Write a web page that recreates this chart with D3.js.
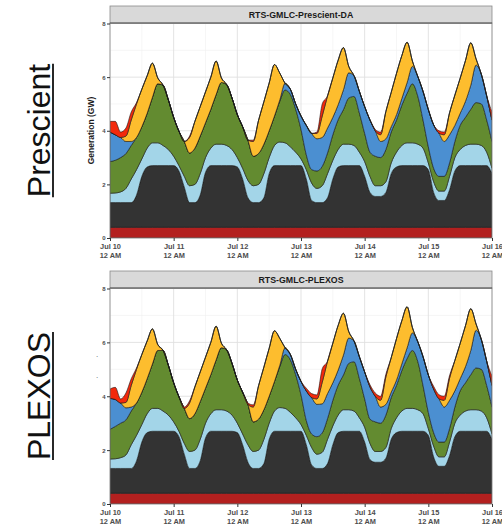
<!DOCTYPE html>
<html>
<head>
<meta charset="utf-8">
<script src="https://cdn.jsdelivr.net/npm/d3@7"></script>
<style>
  body { margin: 0; background: #fff; }
  svg { display: block; font-family: "Liberation Sans", Arial, sans-serif; }
</style>
</head>
<body>
<div id="chart"></div>
<script>
// tick labels
const dayLabels = ["Jul 10", "Jul 11", "Jul 12", "Jul 13", "Jul 14", "Jul 15", "Jul 16"];
const hourLabel = "12 AM";
const yTicks = [0, 2, 4, 6, 8];

// generation by type (GW), every 2 hours from Jul 10 12 AM to Jul 16 12 AM
const presNuclear = [
  0.4,0.4,0.4,0.4,0.4,0.4,0.4,0.4,0.4,0.4,0.4,0.4,
  0.4,0.4,0.4,0.4,0.4,0.4,0.4,0.4,0.4,0.4,0.4,0.4,
  0.4,0.4,0.4,0.4,0.4,0.4,0.4,0.4,0.4,0.4,0.4,0.4,
  0.4,0.4,0.4,0.4,0.4,0.4,0.4,0.4,0.4,0.4,0.4,0.4,
  0.4,0.4,0.4,0.4,0.4,0.4,0.4,0.4,0.4,0.4,0.4,0.4,
  0.4,0.4,0.4,0.4,0.4,0.4,0.4,0.4,0.4,0.4,0.4,0.4,
  0.4];
const presCoal = [
  0.92,0.92,0.92,0.92,0.92,1.20,1.90,2.25,2.30,2.30,2.30,2.30,
  2.30,2.10,1.50,0.92,0.92,1.20,2.05,2.30,2.30,2.30,2.30,2.30,
  2.25,1.80,1.10,0.92,0.92,1.10,2.00,2.30,2.30,2.30,2.30,2.30,
  2.30,1.80,1.00,0.92,0.92,1.10,1.80,2.25,2.30,2.30,2.30,2.30,
  1.90,1.30,1.15,1.15,1.30,2.00,2.25,2.30,2.30,2.30,2.30,2.30,
  2.15,1.30,1.00,1.00,1.40,2.10,2.30,2.30,2.30,2.30,2.30,2.30,
  2.00];
const presHydro = [
  0.35,0.36,0.40,0.53,0.88,0.95,0.65,0.70,0.85,0.85,0.75,0.60,
  0.35,0.20,0.40,0.63,0.68,0.80,0.55,0.65,0.80,0.80,0.75,0.60,
  0.35,0.40,0.65,0.63,0.68,0.90,0.60,0.75,0.88,0.85,0.70,0.50,
  0.25,0.35,0.65,0.53,0.63,0.90,0.70,0.65,0.80,0.80,0.75,0.50,
  0.55,0.60,0.40,0.40,0.40,0.40,0.55,0.75,0.85,0.85,0.80,0.65,
  0.25,0.40,0.35,0.35,0.50,0.50,0.60,0.75,0.80,0.80,0.75,0.50,
  0.20];
const presGasCC = [
  1.18,1.22,1.28,1.30,1.25,1.20,1.20,1.30,1.70,2.20,2.25,1.85,
  1.45,1.28,1.30,1.22,1.35,1.40,1.30,1.45,1.85,2.30,2.27,1.92,
  1.60,1.55,1.50,1.10,1.15,1.10,1.00,1.10,1.52,1.97,1.95,1.60,
  1.10,0.55,0.50,0.65,0.72,0.77,0.95,1.11,1.29,1.72,1.83,1.46,
  1.05,0.90,1.10,1.05,1.20,1.15,1.20,1.50,1.85,2.20,1.80,1.05,
  0.60,0.50,0.55,0.55,0.50,0.60,0.90,1.05,1.30,1.55,1.55,1.20,
  1.00];
const presWind = [
  1.10,0.95,0.75,0.45,0.15,0,0,0,0,0,0,0,
  0,0,0,0,0,0,0,0,0,0,0,0,
  0,0,0,0,0,0,0,0,0.05,0.25,0.20,0.20,
  0.50,1.10,1.35,1.20,1.08,0.93,0.65,0.56,0.74,0.94,0.77,0.81,
  1.00,1.20,0.95,0.60,0.40,0.20,0.20,0.25,0.40,0.65,0.73,1.07,
  1.39,1.62,1.61,1.30,1.05,0.60,0.45,0.60,0.90,1.40,1.10,0.90,
  0.80];
const presSolar = [
  0,0,0,0.20,0.80,1.25,1.40,1.40,1.27,0.22,0,0,
  0,0,0,0.58,1.00,1.10,1.15,1.20,1.25,0.17,0,0,
  0,0,0,0.55,1.24,1.58,1.78,1.92,1.00,0,0,0,
  0,0,0,0.20,0.80,1.20,1.47,1.66,1.57,0.24,0,0,
  0,0,0,0.25,1.02,1.28,1.54,1.60,1.50,0.20,0,0,
  0,0,0,0.25,0.82,1.13,1.31,1.52,1.58,0.23,0,0,
  0];
const presCT = [
  0.40,0.50,0.20,0.30,0.30,0.05,0,0,0,0,0,0,
  0,0,0,0.05,0,0,0,0,0,0,0,0,
  0,0,0,0.05,0,0,0,0,0,0,0,0,
  0,0,0,0.05,0.45,0,0,0,0,0,0,0,
  0,0,0.05,0.10,0,0,0,0,0,0,0,0,
  0,0,0.09,0.10,0,0,0,0,0,0,0,0,
  0.30];

const plexNuclear = [
  0.4,0.4,0.4,0.4,0.4,0.4,0.4,0.4,0.4,0.4,0.4,0.4,
  0.4,0.4,0.4,0.4,0.4,0.4,0.4,0.4,0.4,0.4,0.4,0.4,
  0.4,0.4,0.4,0.4,0.4,0.4,0.4,0.4,0.4,0.4,0.4,0.4,
  0.4,0.4,0.4,0.4,0.4,0.4,0.4,0.4,0.4,0.4,0.4,0.4,
  0.4,0.4,0.4,0.4,0.4,0.4,0.4,0.4,0.4,0.4,0.4,0.4,
  0.4,0.4,0.4,0.4,0.4,0.4,0.4,0.4,0.4,0.4,0.4,0.4,
  0.4];
const plexCoal = [
  0.92,0.92,0.92,0.92,0.92,1.20,1.90,2.25,2.30,2.30,2.30,2.30,
  2.30,2.10,1.45,0.92,0.92,1.20,2.05,2.30,2.30,2.30,2.30,2.30,
  2.25,1.80,1.15,0.92,0.92,1.10,2.00,2.30,2.30,2.30,2.30,2.30,
  2.30,1.80,1.05,0.92,0.92,1.10,1.80,2.25,2.30,2.30,2.30,2.30,
  1.90,1.25,1.15,1.15,1.30,2.00,2.25,2.30,2.30,2.30,2.30,2.30,
  2.15,1.35,1.00,1.00,1.40,2.10,2.30,2.30,2.30,2.30,2.30,2.30,
  2.00];
const plexHydro = [
  0.35,0.36,0.40,0.50,0.88,0.95,0.65,0.70,0.85,0.85,0.75,0.60,
  0.35,0.20,0.40,0.63,0.68,0.80,0.55,0.65,0.80,0.80,0.75,0.60,
  0.35,0.40,0.65,0.63,0.68,0.90,0.60,0.75,0.88,0.85,0.70,0.50,
  0.25,0.35,0.65,0.53,0.60,0.90,0.70,0.65,0.80,0.80,0.75,0.50,
  0.55,0.60,0.40,0.40,0.40,0.40,0.55,0.75,0.85,0.85,0.80,0.65,
  0.25,0.40,0.35,0.35,0.50,0.50,0.60,0.75,0.80,0.80,0.75,0.50,
  0.20];
const plexGasCC = [
  1.10,1.20,1.28,1.30,1.25,1.20,1.20,1.30,1.65,2.15,2.25,1.85,
  1.45,1.28,1.30,1.22,1.35,1.40,1.30,1.45,1.85,2.30,2.27,1.92,
  1.60,1.55,1.50,1.10,1.15,1.10,1.00,1.10,1.52,2.00,1.95,1.60,
  1.10,0.55,0.50,0.65,0.72,0.77,0.95,1.11,1.29,1.72,1.83,1.46,
  1.05,0.90,1.10,1.05,1.20,1.15,1.20,1.50,1.85,2.15,1.80,1.05,
  0.60,0.50,0.55,0.55,0.50,0.60,0.90,1.05,1.30,1.55,1.55,1.20,
  1.00];
const plexWind = [
  1.15,1.00,0.75,0.45,0.15,0,0,0,0,0,0,0,
  0,0,0,0,0,0,0,0,0,0,0,0,
  0,0,0,0,0,0,0,0,0.05,0.25,0.20,0.20,
  0.50,1.10,1.35,1.20,1.08,0.93,0.65,0.56,0.74,0.94,0.77,0.81,
  1.00,1.20,0.95,0.60,0.40,0.20,0.20,0.25,0.40,0.65,0.73,1.07,
  1.39,1.62,1.61,1.30,1.05,0.60,0.45,0.60,0.90,1.40,1.10,0.90,
  0.80];
const plexSolar = [
  0,0,0,0.20,0.80,1.25,1.40,1.40,1.30,0.22,0,0,
  0,0,0,0.58,1.00,1.10,1.15,1.20,1.25,0.17,0,0,
  0,0,0,0.55,1.24,1.58,1.78,1.88,1.00,0,0,0,
  0,0,0,0.20,0.80,1.20,1.47,1.66,1.55,0.24,0,0,
  0,0,0,0.25,1.02,1.28,1.54,1.60,1.52,0.20,0,0,
  0,0,0,0.25,0.82,1.13,1.31,1.52,1.55,0.23,0,0,
  0];
const plexCT = [
  0.35,0.45,0.15,0.35,0.25,0.05,0,0,0,0,0,0,
  0,0,0.05,0.08,0,0,0,0,0,0,0,0,
  0,0,0.05,0.08,0,0,0,0,0,0,0,0,
  0,0.10,0.15,0.15,0.50,0,0,0,0,0,0,0,
  0,0.08,0.12,0.15,0.10,0,0,0,0,0,0,0,
  0,0.10,0.15,0.15,0.10,0,0,0,0,0,0,0,
  0.35];

const layerKeys = ["nuclear", "coal", "hydro", "gasCC", "wind", "solar", "ct"];
const layerColors = {
  nuclear: "#b3201f",
  coal: "#333333",
  hydro: "#a3d5e8",
  gasCC: "#638b30",
  wind: "#4b8fd1",
  solar: "#fdbd2e",
  ct: "#f3290c"
};

const start = new Date(2020, 6, 10);
const end = new Date(2020, 6, 16);
const times = d3.range(presCoal.length).map(i => d3.timeHour.offset(start, 2 * i));
const dayTicks = d3.timeDay.range(start, d3.timeDay.offset(end, 1));

function buildRows(series) {
  return times.map((t, i) => {
    const row = { date: t };
    layerKeys.forEach(k => { row[k] = series[k][i]; });
    return row;
  });
}

const panels = [
  {
    title: "RTS-GMLC-Prescient-DA", label: "Prescient", stripTop: 6, top: 23, bottom: 238, yTitle: true,
    rows: buildRows({ nuclear: presNuclear, coal: presCoal, hydro: presHydro, gasCC: presGasCC,
                      wind: presWind, solar: presSolar, ct: presCT })
  },
  {
    title: "RTS-GMLC-PLEXOS", label: "PLEXOS", stripTop: 271, top: 288, bottom: 504, yTitle: false,
    rows: buildRows({ nuclear: plexNuclear, coal: plexCoal, hydro: plexHydro, gasCC: plexGasCC,
                      wind: plexWind, solar: plexSolar, ct: plexCT })
  }
];

const width = 502, height = 528;
const left = 110, right = 492;

const svg = d3.select("#chart").append("svg")
  .attr("width", width)
  .attr("height", height);

const x = d3.scaleTime().domain([start, end]).range([left, right]);

panels.forEach((p, pi) => {
  const g = svg.append("g");
  const y = d3.scaleLinear().domain([0, 8]).range([p.bottom, p.top + 0.5]);

  const clipId = "clip" + pi;
  svg.append("clipPath").attr("id", clipId)
    .append("rect")
    .attr("x", left).attr("y", p.top)
    .attr("width", right - left).attr("height", p.bottom - p.top);

  // grid
  const minorY = [1, 3, 5, 7];
  const halfDays = dayTicks.slice(0, -1).map(d => d3.timeHour.offset(d, 12));
  g.append("g").selectAll("line").data(minorY).join("line")
    .attr("x1", left).attr("x2", right)
    .attr("y1", d => y(d)).attr("y2", d => y(d))
    .attr("stroke", "#f0f0f0").attr("stroke-width", 0.6);
  g.append("g").selectAll("line").data(halfDays).join("line")
    .attr("x1", d => x(d)).attr("x2", d => x(d))
    .attr("y1", p.top).attr("y2", p.bottom)
    .attr("stroke", "#f0f0f0").attr("stroke-width", 0.6);
  g.append("g").selectAll("line").data(yTicks).join("line")
    .attr("x1", left).attr("x2", right)
    .attr("y1", d => y(d)).attr("y2", d => y(d))
    .attr("stroke", "#e0e0e0").attr("stroke-width", 0.9);
  g.append("g").selectAll("line").data(dayTicks).join("line")
    .attr("x1", d => x(d)).attr("x2", d => x(d))
    .attr("y1", p.top).attr("y2", p.bottom)
    .attr("stroke", "#e0e0e0").attr("stroke-width", 0.9);

  // stacked areas
  const stacked = d3.stack().keys(layerKeys)(p.rows);
  const area = d3.area()
    .x(d => x(d.data.date))
    .y0(d => y(d[0]))
    .y1(d => y(d[1]))
    .curve(d3.curveMonotoneX);

  g.append("g").attr("clip-path", `url(#${clipId})`)
    .selectAll("path").data(stacked).join("path")
    .attr("fill", d => layerColors[d.key])
    .attr("stroke", "#1a1a1a")
    .attr("stroke-opacity", 0.85)
    .attr("stroke-width", 0.7)
    .attr("stroke-linejoin", "round")
    .attr("d", area);

  // panel border and strip
  g.append("rect")
    .attr("x", left).attr("y", p.top)
    .attr("width", right - left).attr("height", p.bottom - p.top)
    .attr("fill", "none").attr("stroke", "#8a8a8a").attr("stroke-width", 0.8);
  g.append("rect")
    .attr("x", left).attr("y", p.stripTop)
    .attr("width", right - left).attr("height", p.top - p.stripTop)
    .attr("fill", "#d9d9d9").attr("stroke", "#8a8a8a").attr("stroke-width", 0.8);
  g.append("line")
    .attr("x1", left).attr("x2", right).attr("y1", p.top).attr("y2", p.top)
    .attr("stroke", "#555").attr("stroke-width", 1);
  g.append("text")
    .attr("x", (left + right) / 2)
    .attr("y", (p.stripTop + p.top) / 2 + 3.1)
    .attr("text-anchor", "middle")
    .attr("font-size", 8.8)
    .attr("font-weight", "bold")
    .attr("fill", "#1a1a1a")
    .text(p.title);

  // y axis
  const ya = g.append("g")
    .attr("transform", `translate(${left},0)`)
    .call(d3.axisLeft(y).tickValues(yTicks).tickSize(3).tickPadding(1.5));
  ya.select(".domain").remove();
  ya.selectAll(".tick line").attr("stroke", "#333");
  ya.selectAll(".tick text")
    .attr("font-size", 6)
    .attr("font-weight", "bold")
    .attr("font-family", "Liberation Sans, Arial, sans-serif")
    .attr("fill", "#4d4d4d");

  // x axis with two-line labels
  const xa = g.append("g")
    .attr("transform", `translate(0,${p.bottom})`)
    .call(d3.axisBottom(x).tickValues(dayTicks).tickSize(3).tickFormat(() => ""));
  xa.select(".domain").remove();
  xa.selectAll(".tick line").attr("stroke", "#333");
  xa.selectAll(".tick text").remove();
  xa.selectAll(".tick").each(function (d, i) {
    const t = d3.select(this).append("text")
      .attr("text-anchor", "middle")
      .attr("font-size", 7.4)
      .attr("font-weight", "bold")
      .attr("font-family", "Liberation Sans, Arial, sans-serif")
      .attr("fill", "#4d4d4d");
    t.append("tspan").attr("x", 0).attr("y", 11).text(dayLabels[i]);
    t.append("tspan").attr("x", 0).attr("y", 20).text(hourLabel);
  });

  const cy = (p.top + p.bottom) / 2;

  // y title
  if (p.yTitle) {
    g.append("text")
      .attr("transform", `translate(94,${cy}) rotate(-90)`)
      .attr("text-anchor", "middle")
      .attr("font-size", 8.5)
      .attr("font-weight", "bold")
      .attr("fill", "#1a1a1a")
      .text("Generation (GW)");
  } else {
    g.selectAll(".dot").data([357, 378]).join("text")
      .attr("x", 96).attr("y", d => d)
      .attr("font-size", 8)
      .attr("fill", "#555")
      .text(".");
  }

  // big model label, underlined
  const lg = g.append("g").attr("transform", `translate(50,${cy}) rotate(-90)`);
  const lt = lg.append("text")
    .attr("text-anchor", "middle")
    .attr("font-size", 32)
    .attr("fill", "#111")
    .text(p.label);
  const len = lt.node().getComputedTextLength();
  lg.append("line")
    .attr("x1", -len / 2).attr("x2", len / 2)
    .attr("y1", 3).attr("y2", 3)
    .attr("stroke", "#111").attr("stroke-width", 1.8);
});
</script>
</body>
</html>
